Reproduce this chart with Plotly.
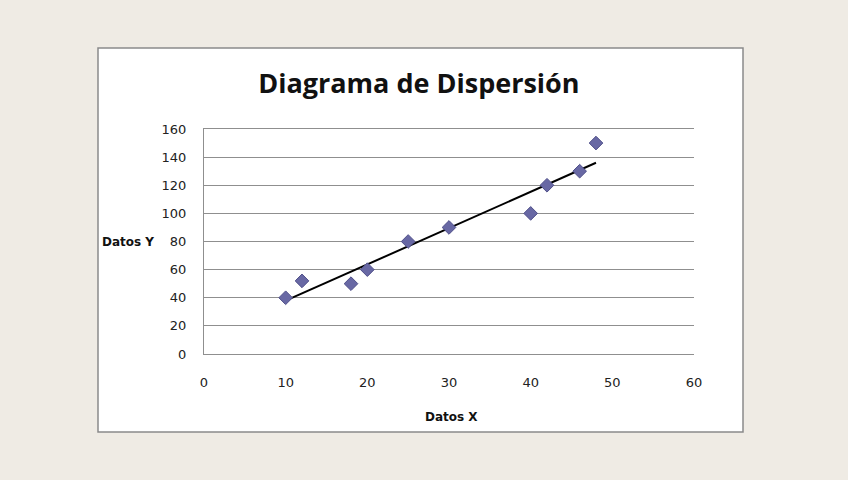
import plotly.graph_objects as go
import numpy as np

datos_x = [10, 12, 18, 20, 25, 30, 40, 42, 46, 48]
datos_y = [40, 52, 50, 60, 80, 90, 100, 120, 130, 150]
x_ticks = [0, 10, 20, 30, 40, 50, 60]
y_ticks = [0, 20, 40, 60, 80, 100, 120, 140, 160]

# linear trend line (least squares), as in the spreadsheet
slope, intercept = np.polyfit(datos_x, datos_y, 1)
tx = [min(datos_x), max(datos_x)]
ty = [slope * v + intercept for v in tx]

fig = go.Figure()
fig.add_trace(go.Scatter(x=tx, y=ty, mode="lines",
                         line=dict(color="black", width=2), hoverinfo="skip"))
fig.add_trace(go.Scatter(x=datos_x, y=datos_y, mode="markers",
                         marker=dict(symbol="diamond", size=10.5, color="#6868a4",
                                     line=dict(color="#50508a", width=1))))

tickfont = dict(family="DejaVu Sans", size=13, color="#222")
fig.update_layout(
    width=848, height=480,
    margin=dict(l=204, r=154, t=129, b=126),
    paper_bgcolor="#efebe4", plot_bgcolor="white",
    showlegend=False,
    title=dict(text="<b>Diagrama de Dispersión</b>", x=0.494, xanchor="center",
               y=1 - 84 / 480, yanchor="middle",
               font=dict(family="Open Sans", size=27, color="#111")),
    xaxis=dict(range=[0, 60], tickvals=x_ticks, showgrid=False, zeroline=False,
               showline=True, mirror=True, linecolor="#8f8f8f", linewidth=1,
               ticklabelstandoff=16, tickfont=tickfont),
    yaxis=dict(range=[0, 160], tickvals=y_ticks, showgrid=True, gridcolor="#8f8f8f",
               gridwidth=1, zeroline=False, showline=True, linecolor="#8f8f8f",
               linewidth=1, ticklabelstandoff=14, tickfont=tickfont),
    shapes=[dict(type="rect", xref="paper", yref="paper", layer="below",
                 x0=(98 - 204) / 490, x1=(743 - 204) / 490,
                 y0=(354 - 432) / 225, y1=(354 - 48) / 225,
                 fillcolor="white", line=dict(color="#8a8a8a", width=1.5))],
    annotations=[
        dict(text="<b>Datos Y</b>", xref="paper", yref="paper",
             x=(156 - 204) / 490, y=0.5, xanchor="right", yanchor="middle",
             showarrow=False, font=dict(family="DejaVu Sans", size=12, color="#111")),
        dict(text="<b>Datos X</b>", xref="paper", yref="paper",
             x=(451 - 204) / 490, y=(354 - 417) / 225, xanchor="center", yanchor="middle",
             showarrow=False, font=dict(family="DejaVu Sans", size=12, color="#111")),
    ],
)

fig.write_html("out.html", config={"displayModeBar": False},
               post_script="document.body.style.margin='0';")
